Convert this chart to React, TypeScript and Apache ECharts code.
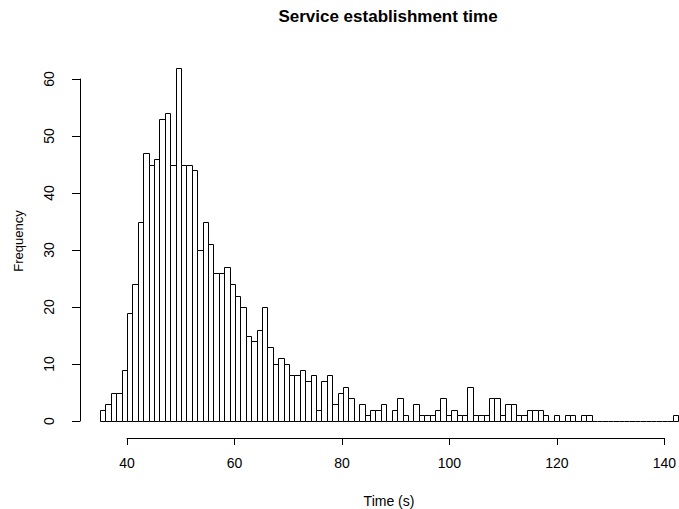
import React, { useEffect, useRef } from "react";
import * as echarts from "echarts";

// Histogram bins: start of first bin and bin width (seconds)
const binStart = 35;
const binWidth = 1;
// Counts per 1-second bin, from 35-36 s up to 141-142 s
const counts = [
  2, 3, 5, 5, 9, 19, 24, 35, 47, 45,
  46, 53, 54, 45, 62, 45, 45, 44, 30, 35,
  31, 26, 26, 27, 24, 22, 20, 15, 14, 16,
  20, 13, 10, 11, 10, 8, 8, 9, 7, 8,
  2, 7, 8, 3, 5, 6, 4, 0, 3, 1,
  2, 2, 3, 0, 2, 4, 1, 0, 3, 1,
  1, 1, 2, 4, 1, 2, 1, 1, 6, 1,
  1, 1, 4, 4, 1, 3, 3, 1, 1, 2,
  2, 2, 1, 0, 1, 0, 1, 1, 0, 1,
  1, 0, 0, 0, 0, 0, 0, 0, 0, 0,
  0, 0, 0, 0, 0, 0, 1,
];
const xTickMin = 40;
const xTickMax = 140;
const xTickStep = 20;
const yTickMin = 0;
const yTickMax = 60;
const yTickStep = 10;

const titleText = "Service establishment time";
const xLabel = "Time (s)";
const yLabel = "Frequency";

const FONT = "'Liberation Sans', Arial, Helvetica, sans-serif";

export default function App() {
  const ref = useRef<HTMLDivElement>(null);
  useEffect(() => {
    document.body.style.margin = "0";
    if (!ref.current) return;
    const chart = echarts.init(ref.current, undefined, { renderer: "svg" });
    const data = counts.map((c, i) => [
      binStart + i * binWidth,
      binStart + (i + 1) * binWidth,
      c,
    ]);
    const option: any = {
      animation: false,
      backgroundColor: "#fff",
      grid: [
        { left: 100, right: 1, top: 79, bottom: 88 },
        { left: 127, right: 12, top: 79, bottom: 88 },
      ],
      xAxis: [
        { gridIndex: 0, type: "value", min: 35, max: 142, show: false },
        {
          gridIndex: 1,
          type: "value",
          min: xTickMin,
          max: xTickMax,
          interval: xTickStep,
          offset: 17,
          axisLine: { show: true, onZero: false, lineStyle: { color: "#000", width: 1 } },
          axisTick: { show: true, length: 7, lineStyle: { color: "#000", width: 1 } },
          axisLabel: { fontSize: 14, color: "#000", margin: 18, fontFamily: FONT },
          splitLine: { show: false },
        },
      ],
      yAxis: [
        {
          gridIndex: 0,
          type: "value",
          min: yTickMin,
          max: yTickMax,
          interval: yTickStep,
          offset: 20,
          axisLine: { show: true, onZero: false, lineStyle: { color: "#000", width: 1 } },
          axisTick: { show: true, length: 8, lineStyle: { color: "#000", width: 1 } },
          axisLabel: { fontSize: 14, color: "#000", margin: 24, rotate: 90, fontFamily: FONT },
          splitLine: { show: false },
        },
        { gridIndex: 1, type: "value", min: 0, max: 60, show: false },
      ],
      graphic: [
        {
          type: "text",
          x: 388,
          y: 16,
          style: {
            text: titleText,
            textAlign: "center",
            textVerticalAlign: "middle",
            font: `bold 17px ${FONT}`,
            fill: "#000",
          },
        },
        {
          type: "text",
          x: 389,
          y: 501,
          style: {
            text: xLabel,
            textAlign: "center",
            textVerticalAlign: "middle",
            font: `14px ${FONT}`,
            fill: "#000",
          },
        },
        {
          type: "text",
          x: 18,
          y: 241,
          rotation: Math.PI / 2,
          style: {
            text: yLabel,
            textAlign: "center",
            textVerticalAlign: "middle",
            font: `13px ${FONT}`,
            fill: "#000",
          },
        },
      ],
      series: [
        {
          type: "custom",
          xAxisIndex: 0,
          yAxisIndex: 0,
          clip: false,
          encode: { x: [0, 1], y: 2 },
          data,
          renderItem: (params: any, api: any) => {
            const x0 = api.value(0);
            const x1 = api.value(1);
            const c = api.value(2);
            const p0 = api.coord([x0, c]);
            const p1 = api.coord([x1, 0]);
            const left = Math.round(p0[0]) + 0.5;
            const right = Math.round(p1[0]) + 0.5;
            const top = Math.round(p0[1]) + 0.5;
            const bottom = Math.round(p1[1]) + 0.5;
            if (c === 0) {
              return {
                type: "line",
                shape: { x1: left, y1: bottom, x2: right, y2: bottom },
                style: { stroke: "#000", lineWidth: 1 },
              };
            }
            return {
              type: "rect",
              shape: { x: left, y: top, width: right - left, height: bottom - top },
              style: { fill: "#fff", stroke: "#000", lineWidth: 1 },
            };
          },
        },
      ],
    };
    chart.setOption(option);
    return () => chart.dispose();
  }, []);
  return <div ref={ref} style={{ width: 679, height: 509 }} />;
}
